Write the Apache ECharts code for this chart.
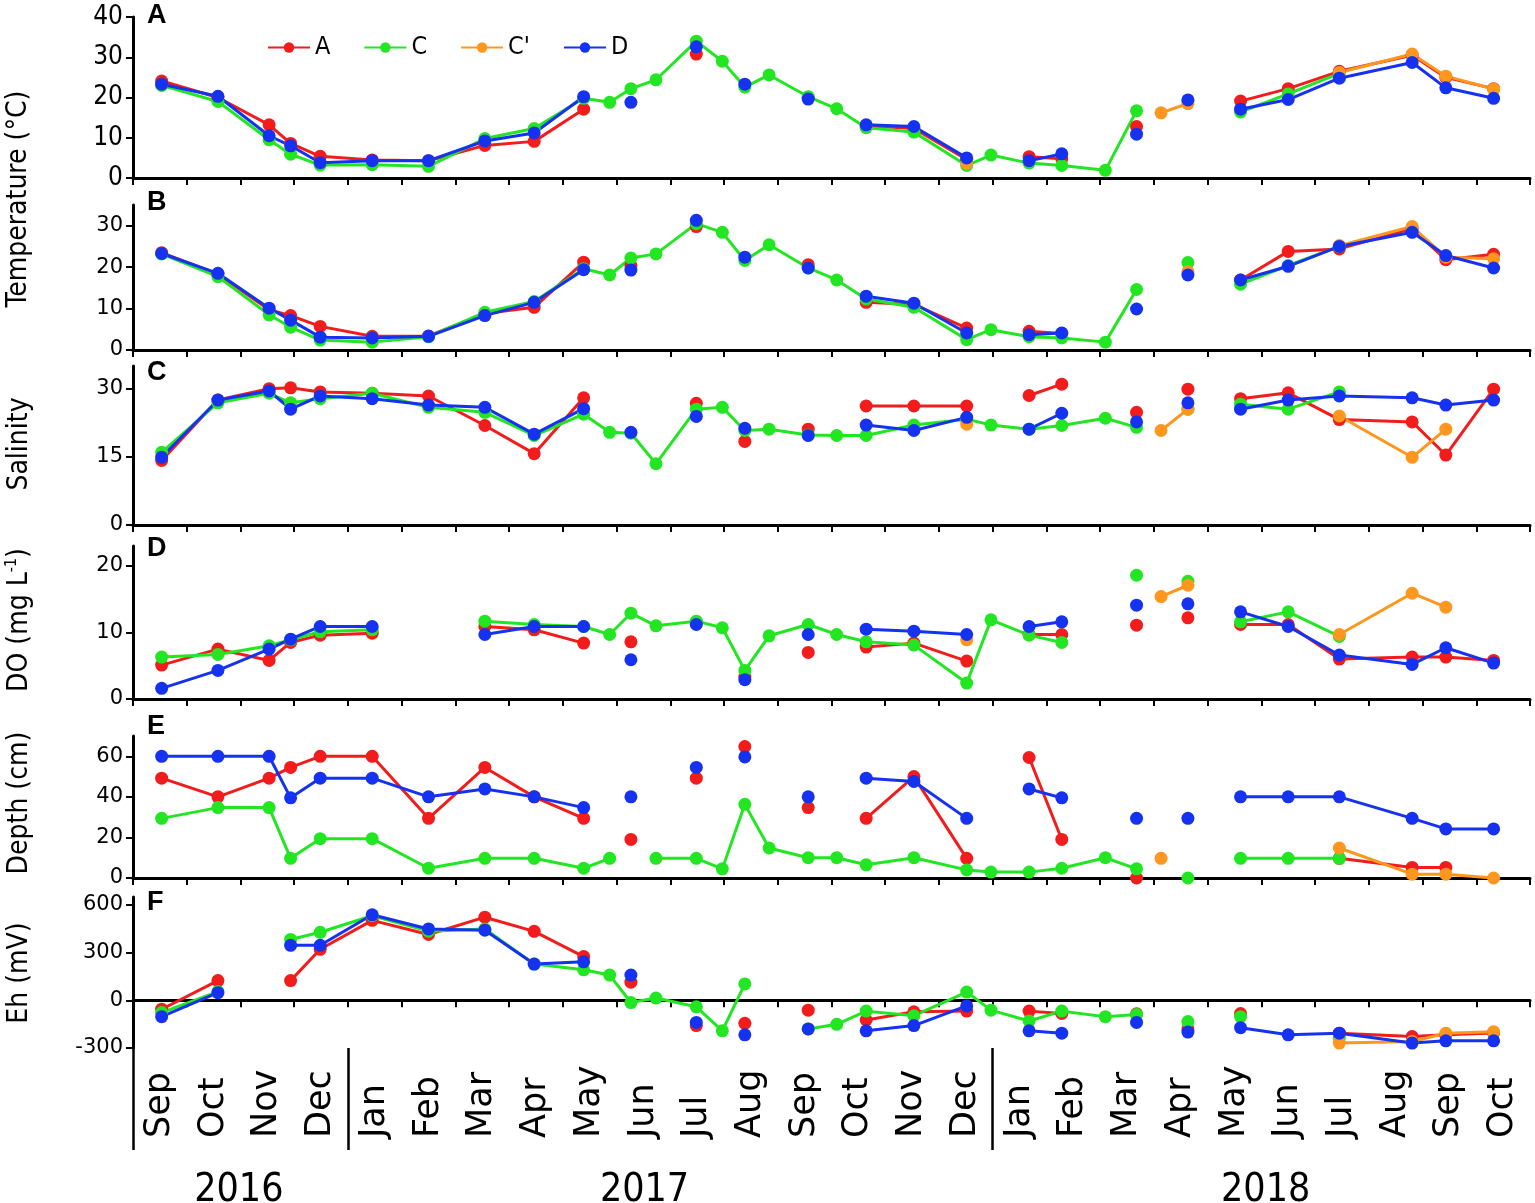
<!DOCTYPE html>
<html>
<head>
<meta charset="utf-8">
<script src="https://cdn.jsdelivr.net/npm/echarts@6/dist/echarts.min.js"></script>
<style>
html,body{margin:0;padding:0;background:#fff;}
#chart{width:1535px;height:1203px;}
</style>
</head>
<body>
<div id="chart"></div>
<script>
// ---------------- DATA ----------------
const MONTH_LABELS = ['Sep','Oct','Nov','Dec','Jan','Feb','Mar','Apr','May','Jun','Jul','Aug','Sep','Oct','Nov','Dec',
  'Jan','Feb','Mar','Apr','May','Jun','Jul','Aug','Sep','Oct'];
const YEAR_LABELS = ['2016','2017','2018'];
const YEAR_LABEL_POS = [1.97, 9.52, 21.08];   // month-band position of year captions
const YEAR_BREAKS = [0, 4, 16];               // month-band boundaries of years
const STATIONS = ['A', 'C', "C'", 'D'];

// sampling dates ('2018-05-05' is a no-data break between the April and May 2018 campaigns)
const SAMPLE_DATES = ['2016-09-17','2016-10-19','2016-11-17','2016-11-29','2016-12-16','2017-01-15','2017-02-15',
  '2017-03-18','2017-04-15','2017-05-13','2017-05-28','2017-06-09','2017-06-23','2017-07-16','2017-07-31',
  '2017-08-13','2017-08-27','2017-09-18','2017-10-04','2017-10-21','2017-11-17','2017-12-17','2017-12-31',
  '2018-01-22','2018-02-09','2018-03-04','2018-03-22','2018-04-05','2018-04-20','2018-05-05','2018-05-20','2018-06-16',
  '2018-07-15','2018-08-26','2018-09-14','2018-10-11'];

// Panel A: Temperature
const tempA_A  = [24.1,20.0,13.2,8.6,5.4,4.5,4.3,8.1,9.1,17.1, null,null,null,30.8,null, null,null,20.0,null,13.0, 12.3,4.6,null,5.3,4.8, null,12.8,null,null,null,19.1, 22.2,26.5,30.5,25.0,22.2];
const tempA_C  = [23.0,19.0,9.5,5.9,3.2,3.3,2.9,9.8,12.3,19.8, 18.8,22.2,24.4,34.0,29.0, 22.6,25.6,20.2,17.2,12.5, 11.4,3.1,5.7,3.7,3.1, 1.9,16.7,null,19.2,null,16.4, 20.9,26.0,null,null,null];
const tempA_Cp = [null,null,null,null,null,null,null,null,null,null, null,null,null,null,null, null,null,null,null,null, null,3.6,null,null,null, null,null,16.2,18.5,null,null, null,26.2,30.8,25.3,22.1];
const tempA_D  = [23.3,20.3,10.5,8.0,3.8,4.3,4.3,9.2,11.2,20.2, null,18.8,null,32.6,null, 23.3,null,19.6,null,13.2, 12.8,5.0,null,4.3,6.0, null,10.9,null,19.4,null,17.1, 19.5,24.8,28.7,22.4,19.8];

// Panel B: Temperature
const tempB_A  = [23.5,18.3,9.7,8.3,5.7,3.3,3.4,8.8,10.3,21.2, null,20.4,null,29.8,null, null,null,20.6,null,11.5, 11.0,5.3,null,4.5,4.0, null,null,null,null,null,16.9, 23.8,24.4,29.3,21.8,23.1];
const tempB_C  = [23.2,17.7,8.5,5.5,2.4,1.9,3.2,9.1,11.7,19.6, 18.1,22.2,23.2,30.5,28.4, 21.6,25.4,19.8,16.9,12.3, 10.3,2.5,4.9,3.2,2.9, 1.9,14.6,null,21.1,null,15.9, 20.4,25.0,null,null,null];
const tempB_Cp = [null,null,null,null,null,null,null,null,null,null, null,null,null,null,null, null,null,null,null,null, null,null,null,null,null, null,null,null,18.9,null,null, null,25.2,29.8,22.4,22.0];
const tempB_D  = [23.3,18.5,10.1,7.2,3.1,2.9,3.3,8.3,11.5,19.4, null,19.3,null,31.3,null, 22.4,null,19.8,null,13.0, 11.3,4.1,null,3.7,4.1, null,9.9,null,18.1,null,16.9, 20.2,25.0,28.4,22.8,19.8];

// Panel C: Salinity
const sal_A  = [14.2,27.5,30.0,30.2,29.3,29.0,28.4,21.9,15.7,28.0, null,null,null,26.8,null, 18.4,null,21.1,null,26.2, 26.2,26.2,null,28.5,31.0, null,24.8,null,29.9,null,27.8, 29.1,23.2,22.7,15.4,29.9];
const sal_C  = [16.0,26.9,29.0,26.9,27.8,29.0,25.9,24.8,19.7,24.4, 20.4,20.2,13.5,25.5,25.9, 20.8,21.1,19.8,19.7,19.7, 22.0,23.3,22.0,21.1,21.9, 23.5,21.5,null,25.5,null,26.6, 25.5,29.3,null,null,null];
const sal_Cp = [null,null,null,null,null,null,null,null,null,null, null,null,null,null,null, null,null,null,null,null, null,22.2,null,null,null, null,null,20.8,25.5,null,null, null,24.0,14.9,21.1,null];
const sal_D  = [14.9,27.5,29.5,25.5,28.4,27.8,26.4,25.9,20.0,25.6, null,20.4,null,23.9,null, 21.3,null,19.7,null,22.0, 20.8,23.7,null,21.1,24.6, null,22.7,null,26.9,null,25.5, 27.5,28.4,28.0,26.4,27.5];

// Panel D: DO
const do_A  = [5.1,7.5,5.8,8.5,9.6,9.9,null,10.9,10.4,8.4, null,8.6,null,11.5,null, 3.3,null,7.0,null,7.8, 8.4,5.7,null,9.7,9.7, null,11.1,null,12.2,null,11.2, 11.2,6.0,6.3,6.3,5.8];
const do_C  = [6.3,6.7,8.0,8.9,10.1,10.4,null,11.7,11.2,10.9, 9.7,12.9,11.0,11.7,10.7, 4.3,9.5,11.2,9.7,8.6, 8.1,2.4,11.9,9.6,8.5, null,18.6,null,17.7,null,11.6, 13.1,9.4,null,null,null];
const do_Cp = [null,null,null,null,null,null,null,null,null,null, null,null,null,null,null, null,null,null,null,null, null,8.9,null,null,null, null,null,15.4,17.1,null,null, null,9.7,15.9,13.8,null];
const do_D  = [1.6,4.3,7.5,9.0,10.9,10.9,null,9.7,10.9,10.9, null,5.9,null,11.2,null, 2.9,null,9.7,null,10.5, 10.2,9.7,null,10.9,11.6, null,14.1,null,14.3,null,13.1, 10.9,6.6,5.2,7.7,5.4];

// Panel E: Depth
const dep_A  = [49.2,40.0,49.2,54.5,60.0,60.0,29.4,54.5,40.0,29.4, null,19.0,null,49.2,null, 64.8,null,34.7,null,29.4, 50.0,9.7,null,59.4,19.0, null,0,null,null,null,null, null,9.7,5.2,5.2,null];
const dep_C  = [29.4,34.7,34.7,9.7,19.4,19.4,4.8,9.7,9.7,4.8, 9.7,null,9.7,9.7,4.5, 36.3,14.8,10.0,10.0,6.5, 10.0,4.0,2.9,2.9,4.8, 10.0,4.5,null,0,null,9.7, 9.7,9.7,null,null,null];
const dep_Cp = [null,null,null,null,null,null,null,null,null,null, null,null,null,null,null, null,null,null,null,null, null,null,null,null,null, null,null,9.7,null,null,null, null,14.8,1.9,1.9,0];
const dep_D  = [60.0,60.0,60.0,39.5,49.2,49.2,40.0,43.9,40.0,34.7, null,40.0,null,54.5,null, 59.7,null,40.0,null,49.2, 47.6,29.4,null,43.9,39.5, null,29.4,null,29.4,null,40.0, 40.0,40.0,29.4,24.2,24.2];

// Panel F: Eh
const eh_A  = [-56,124,null,124,321,503,414,523,434,275, null,114,null,-159,null, -145,null,-62,null,-124, -72,-68,null,-68,-83, null,-85,null,-180,null,-83, null,-207,-228,-217,-205];
const eh_C  = [-77,55,null,383,428,532,435,449,228,192, 159,-14,14,-41,-192, 103,null,-180,-151,-68, -97,52,-62,-130,-68, -103,-89,null,-134,null,-103, null,-234,null,null,null];
const eh_Cp = [null,null,null,null,null,null,null,null,null,null, null,null,null,null,null, null,null,null,null,null, null,null,null,null,null, null,null,null,null,null,null, null,-269,-259,-207,-197];
const eh_D  = [-103,48,null,346,346,538,449,441,228,242, null,159,null,-139,null, -217,null,-180,null,-192, -159,-35,null,-192,-207, null,-139,null,-200,null,-172, -217,-207,-269,-255,-255];

const PANEL_LETTERS = ['A','B','C','D','E','F'];
const PANEL_SERIES = [
  [tempA_A, tempA_C, tempA_Cp, tempA_D],
  [tempB_A, tempB_C, tempB_Cp, tempB_D],
  [sal_A, sal_C, sal_Cp, sal_D],
  [do_A, do_C, do_Cp, do_D],
  [dep_A, dep_C, dep_Cp, dep_D],
  [eh_A, eh_C, eh_Cp, eh_D]
];
const Y_MIN = [0, 0, 0, 0, 0, -300];
const Y_MAX = [40, 35, 35, 23, 70, 650];
const Y_TICKS = [[0,10,20,30,40],[0,10,20,30],[0,15,30],[0,10,20],[0,20,40,60],[-300,0,300,600]];

// ---------------- LAYOUT / STYLE ----------------
const COLORS = ['#f21c1c', '#22e622', '#ff961e', '#1432f0'];
const GRID_BOXES = [
  {top:17, height:161},{top:205, height:145},{top:366, height:159},
  {top:546, height:153},{top:736, height:142},{top:897, height:151}
];
const LETTER_TOPS = [2, 189, 359, 535, 713, 889];
const NARROW = '"Liberation Sans Narrow","DejaVu Sans Condensed","Open Sans",sans-serif';
const WIDE = '"DejaVu Sans","Verdana",sans-serif';

function monthPos(s) {
  const p = s.split('-').map(Number);
  const dim = new Date(p[0], p[1], 0).getDate();
  return (p[0] - 2016) * 12 + (p[1] - 1) - 8 + (p[2] - 1) / dim;
}
const XS = SAMPLE_DATES.map(monthPos);
const BAND_EDGES = MONTH_LABELS.map((_, i) => i).concat([MONTH_LABELS.length]);
const BAND_CENTERS = MONTH_LABELS.map((_, i) => i + 0.5);

const grid = GRID_BOXES.map(g => ({left:133, right:5, top:g.top, height:g.height,
  containLabel:false, outerBoundsMode:'none'}));

const xAxis = GRID_BOXES.map((g, i) => ({
  type:'value', gridIndex:i, min:0, max:MONTH_LABELS.length,
  axisLine:{show:true, lineStyle:{color:'#000', width:3}},
  axisTick:{show:true, customValues:BAND_EDGES, length:7, inside:false, lineStyle:{color:'#000', width:2}},
  splitLine:{show:false},
  axisLabel: i === 5 ? {
    show:true, customValues:BAND_CENTERS, rotate:90, margin:90, align:'left', verticalAlign:'middle',
    fontFamily:WIDE, fontSize:35, color:'#000',
    formatter: v => MONTH_LABELS[Math.floor(v)]
  } : {show:false}
}));
// year separators and year captions
xAxis.push({
  type:'value', gridIndex:5, position:'bottom', min:0, max:MONTH_LABELS.length,
  axisLine:{show:false},
  axisTick:{show:true, customValues:YEAR_BREAKS, length:102, inside:false, lineStyle:{color:'#000', width:2.5}},
  splitLine:{show:false},
  axisLabel:{
    show:true, customValues:YEAR_LABEL_POS, margin:123,
    fontFamily:NARROW, fontSize:39, color:'#000',
    formatter: v => {
      let best = 0;
      YEAR_LABEL_POS.forEach((p, k) => { if (Math.abs(p - v) < Math.abs(YEAR_LABEL_POS[best] - v)) best = k; });
      return YEAR_LABELS[best];
    }
  }
});

const yAxis = GRID_BOXES.map((g, i) => ({
  type:'value', gridIndex:i, min:Y_MIN[i], max:Y_MAX[i],
  axisLine:{show:true, lineStyle:{color:'#000', width:3}},
  axisTick:{show:true, customValues:Y_TICKS[i], length:7, inside:false, lineStyle:{color:'#000', width:2}},
  splitLine:{show:false},
  axisLabel:{
    show:true, customValues:Y_TICKS[i], margin:10, color:'#000',
    fontFamily: i === 0 ? NARROW : WIDE,
    fontSize: i === 0 ? 26 : 21
  }
}));

const series = [];
PANEL_SERIES.forEach((group, p) => {
  group.forEach((vals, s) => {
    series.push({
      type:'line', name:STATIONS[s], xAxisIndex:p, yAxisIndex:p,
      data: XS.map((x, k) => [x, vals[k] == null ? '-' : vals[k]]),
      connectNulls:false,
      symbol:'circle', symbolSize:13, showSymbol:true,
      lineStyle:{color:COLORS[s], width:3},
      itemStyle:{color:COLORS[s]},
      emphasis:{disabled:true},
      animation:false
    });
  });
});

const title = PANEL_LETTERS.map((L, i) => ({
  text:L, left:147, top:LETTER_TOPS[i], padding:0,
  textStyle:{fontFamily:'"Liberation Sans",Arial,sans-serif', fontWeight:'bold', fontSize:27, color:'#000'}
}));

const Y_TITLES = [
  {text:'Temperature (°C)', x:19, y:199},
  {text:'Salinity', x:20, y:444},
  {text:'{m|DO (mg L}{s|-1}{m|)}', x:20, y:620, rich:true},
  {text:'Depth (cm)', x:20, y:803},
  {text:'Eh (mV)', x:20, y:973}
];
const graphic = Y_TITLES.map(t => ({
  type:'text', x:t.x, y:t.y, rotation:Math.PI/2,
  style: Object.assign({
    text:t.text, fill:'#000', fontFamily:NARROW, fontSize:28,
    align:'center', verticalAlign:'middle'
  }, t.rich ? {rich:{
    m:{fontFamily:NARROW, fontSize:28, lineHeight:32, fill:'#000'},
    s:{fontFamily:NARROW, fontSize:16, lineHeight:16, verticalAlign:'top', fill:'#000'}
  }} : {})
}));

const option = {
  backgroundColor:'#fff',
  animation:false,
  title, grid, xAxis, yAxis, series, graphic,
  legend:{
    data:STATIONS, left:262, top:30, itemWidth:42, itemHeight:13, itemGap:33,
    textStyle:{fontFamily:NARROW, fontSize:25, color:'#000'},
    selectedMode:false
  }
};

const chart = echarts.init(document.getElementById('chart'), null, {renderer:'canvas'});
chart.setOption(option);
</script>
</body>
</html>
